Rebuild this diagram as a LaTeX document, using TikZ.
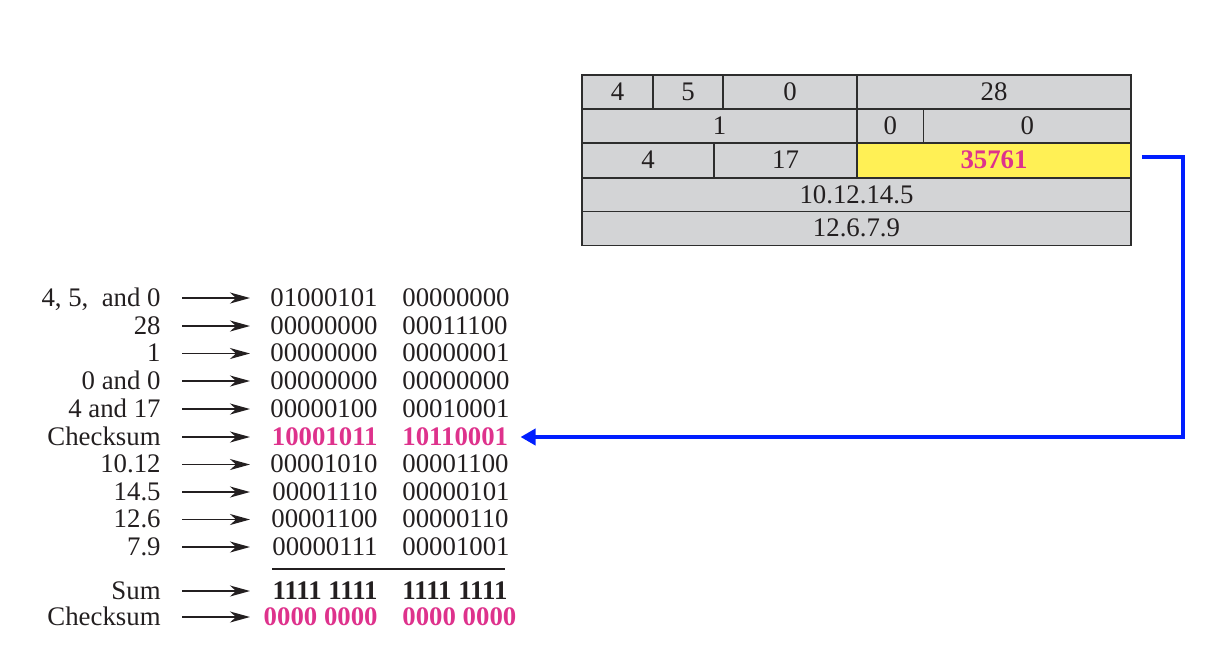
\documentclass[tikz,border=0pt]{standalone}
\usepackage{fontspec}
\setmainfont{Liberation Serif}
\usetikzlibrary{arrows.meta}
\definecolor{cellgray}{RGB}{211,212,214}
\definecolor{edgec}{RGB}{45,45,45}
\definecolor{ink}{RGB}{35,31,32}
\definecolor{pinkc}{RGB}{222,50,140}
\definecolor{yellowc}{RGB}{255,240,85}
\definecolor{blueline}{RGB}{0,30,255}
\begin{document}
\begin{tikzpicture}[x=0.5pt,y=-0.5pt,
  font=\fontsize{13.4}{15}\selectfont,
  cell/.style={draw=edgec, fill=cellgray, line width=0.9pt, minimum height=17pt, inner sep=0pt, text=ink, text height=0.82em, text depth=0pt},
  lab/.style={anchor=east, inner sep=0pt, text height=0.82em, text depth=0pt, text=ink},
  bl/.style={anchor=east, inner sep=0pt, text height=0.82em, text depth=0pt, text=ink},
  br/.style={anchor=west, inner sep=0pt, text height=0.82em, text depth=0pt, text=ink},
  hot/.style={text=pinkc, font=\fontsize{13.4}{15}\selectfont\bfseries},
  sumst/.style={font=\fontsize{13.4}{15}\selectfont\bfseries},
  arr/.style={-{Stealth[length=10pt,width=5.5pt,inset=3pt]}, line width=0.75pt, draw=ink, shorten <=10.5pt},
  bluearr/.style={-{Triangle[length=7.5pt,width=8pt]}, line width=2.25pt, draw=blueline}]
\useasboundingbox (0,0) rectangle (1208,644);
% header table
\node[cell, minimum width=35.5pt] (c11) at (617.5,92) {4};
\node[cell, minimum width=35pt] (c12) at (688,92) {5};
\node[cell, minimum width=67pt] (c13) at (790,92) {0};
\node[cell, minimum width=137pt] (c14) at (994,92) {28};
\node[cell, minimum width=137.5pt] (c21) at (719.5,126) {1};
\node[cell, minimum width=33.25pt] (c22) at (890.25,126) {0};
\node[cell, minimum width=103.75pt] (c23) at (1027.25,126) {0};
\node[cell, minimum width=66pt] (c31) at (648,160.5) {4};
\node[cell, minimum width=71.5pt] (c32) at (785.5,160.5) {17};
\node[cell, minimum width=137pt, fill=yellowc, text=pinkc, font=\fontsize{13.4}{15}\selectfont\bfseries] (cs) at (994,160.5) {35761};
\node[cell, minimum width=274.5pt] (c4) at (856.5,195) {10.12.14.5};
\node[cell, minimum width=274.5pt] (c5) at (856.5,228.5) {12.6.7.9};
% list
\node[lab] (l1) at (161,298) {4, 5, \ and 0};
\node[bl] (p1) at (378,298) {01000101};
\node[br] (q1) at (402,298) {00000000};
\coordinate (a1) at (250,298);
\node[lab] (l2) at (161,326) {28};
\node[bl] (p2) at (378,326) {00000000};
\node[br] (q2) at (402,326) {00011100};
\coordinate (a2) at (250,326);
\node[lab] (l3) at (161,353.5) {1};
\node[bl] (p3) at (378,353.5) {00000000};
\node[br] (q3) at (402,353.5) {00000001};
\coordinate (a3) at (250,353.5);
\node[lab] (l4) at (161,381) {0 and 0};
\node[bl] (p4) at (378,381) {00000000};
\node[br] (q4) at (402,381) {00000000};
\coordinate (a4) at (250,381);
\node[lab] (l5) at (161,409) {4 and 17};
\node[bl] (p5) at (378,409) {00000100};
\node[br] (q5) at (402,409) {00010001};
\coordinate (a5) at (250,409);
\node[lab] (l6) at (161,437) {Checksum};
\node[bl,hot] (p6) at (378,437) {10001011};
\node[br,hot] (q6) at (402,437) {10110001};
\coordinate (a6) at (250,437);
\node[lab] (l7) at (161,464.5) {10.12};
\node[bl] (p7) at (378,464.5) {00001010};
\node[br] (q7) at (402,464.5) {00001100};
\coordinate (a7) at (250,464.5);
\node[lab] (l8) at (161,492) {14.5};
\node[bl] (p8) at (378,492) {00001110};
\node[br] (q8) at (402,492) {00000101};
\coordinate (a8) at (250,492);
\node[lab] (l9) at (161,519.5) {12.6};
\node[bl] (p9) at (378,519.5) {00001100};
\node[br] (q9) at (402,519.5) {00000110};
\coordinate (a9) at (250,519.5);
\node[lab] (l10) at (161,547) {7.9};
\node[bl] (p10) at (378,547) {00000111};
\node[br] (q10) at (402,547) {00001001};
\coordinate (a10) at (250,547);
\node[lab] (l11) at (161,591) {Sum};
\node[bl,sumst] (p11) at (378,591) {1111 1111};
\node[br,sumst] (q11) at (402,591) {1111 1111};
\coordinate (a11) at (250,591);
\node[lab] (l12) at (161,617) {Checksum};
\node[bl,hot] (p12) at (378,617) {0000 0000};
\node[br,hot] (q12) at (402,617) {0000 0000};
\coordinate (a12) at (250,617);
\foreach \i in {1,...,12} {\draw[arr] (l\i.east) -- (a\i);}
% sum rule
\draw[line width=0.8pt, draw=ink] (272,569) -- (505,569);
% blue connector
\coordinate (bc) at (1183,157);
\draw[bluearr] ([xshift=5pt,yshift=1.75pt]cs.east) -- (bc) |- ([xshift=6pt]q6.east);
\end{tikzpicture}
\end{document}
